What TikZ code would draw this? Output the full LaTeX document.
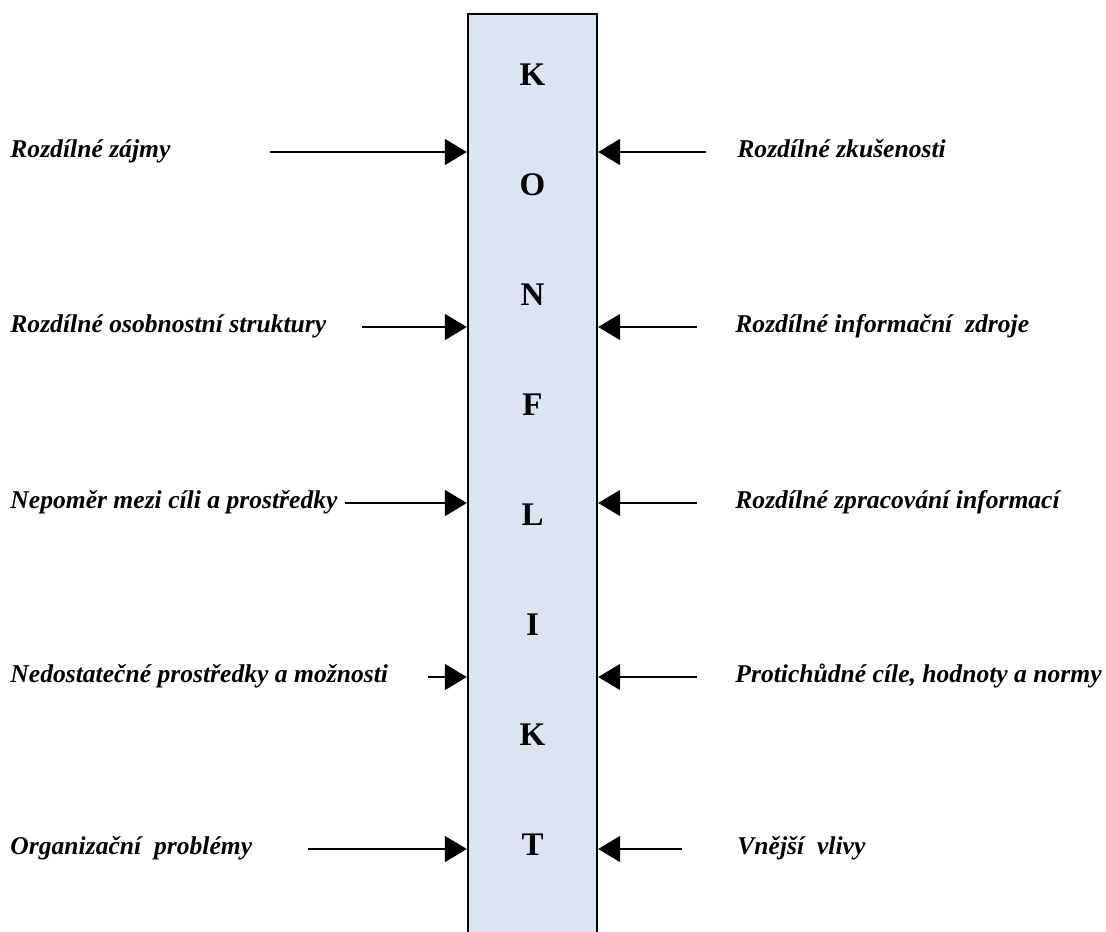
\documentclass[tikz,border=0pt]{standalone}
\usepackage{fontspec}
\setmainfont{Liberation Serif}
\usepackage{xcolor}
\usepackage{tikz}
\usetikzlibrary{arrows.meta, positioning}

\definecolor{barblue}{RGB}{219,229,241}

\begin{document}
\begin{tikzpicture}[
    x=0.5pt, y=-0.5pt,
    konflikt/.style={rectangle, draw=black, line width=1.2pt, fill=barblue,
                     minimum width=64.5pt, minimum height=470pt, anchor=north, inner sep=0pt},
    letter/.style={font=\fontsize{16.5}{19}\selectfont\bfseries, inner sep=0pt},
    cause/.style={font=\fontsize{12.8}{15}\selectfont\bfseries\itshape, anchor=west,
                  inner sep=0pt, text height=0.75em, text depth=0.25em},
    feed/.style={-{Triangle[length=11pt, width=13pt]}, line width=0.9pt}
]
\useasboundingbox (0,0) rectangle (1106,931);

\node[konflikt] (bar) at (532.5,13) {};

% letters of the bar
\node[letter] (k1) at (532.5,75)  {K};
\node[letter] (o)  at (532.5,185) {O};
\node[letter] (n)  at (532.5,295) {N};
\node[letter] (f)  at (532.5,405) {F};
\node[letter] (l)  at (532.5,515) {L};
\node[letter] (i)  at (532.5,625) {I};
\node[letter] (k2) at (532.5,735) {K};
\node[letter] (t)  at (532.5,845) {T};

% left causes
\node[cause] (zajmy)    at (10,152) {Rozdílné zájmy};
\node[cause] (osobnost) at (10,327) {Rozdílné osobnostní struktury};
\node[cause] (nepomer)  at (10,503) {Nepoměr mezi cíli a prostředky};
\node[cause] (nedostat) at (10,677) {Nedostatečné prostředky a možnosti};
\node[cause] (organiz)  at (10,849) {Organizační\ \ problémy};

% right causes
\node[cause] (zkusenost) at (737,152) {Rozdílné zkušenosti};
\node[cause] (zdroje)    at (735,327) {Rozdílné informační\ \ zdroje};
\node[cause] (zpracov)   at (735,503) {Rozdílné zpracování informací};
\node[cause] (cile)      at (735,677) {Protichůdné cíle, hodnoty a normy};
\node[cause] (vlivy)     at (737,849) {Vnější\ \ vlivy};

% arrow tails
\coordinate (zajmyA)    at (270,152);
\coordinate (osobnostA) at (362,327);
\coordinate (nepomerA)  at (345,503);
\coordinate (nedostatA) at (428,677);
\coordinate (organizA)  at (308,849);
\coordinate (zkusenostA) at (706,152);
\coordinate (zdrojeA)    at (697,327);
\coordinate (zpracovA)   at (697,503);
\coordinate (cileA)      at (697,677);
\coordinate (vlivyA)     at (682,849);

\draw[feed] (zajmyA) -- (zajmyA -| bar.west);
\draw[feed] (osobnostA) -- (osobnostA -| bar.west);
\draw[feed] (nepomerA) -- (nepomerA -| bar.west);
\draw[feed] (nedostatA) -- (nedostatA -| bar.west);
\draw[feed] (organizA) -- (organizA -| bar.west);

\draw[feed] (zkusenostA) -- (zkusenostA -| bar.east);
\draw[feed] (zdrojeA) -- (zdrojeA -| bar.east);
\draw[feed] (zpracovA) -- (zpracovA -| bar.east);
\draw[feed] (cileA) -- (cileA -| bar.east);
\draw[feed] (vlivyA) -- (vlivyA -| bar.east);

\end{tikzpicture}
\end{document}
